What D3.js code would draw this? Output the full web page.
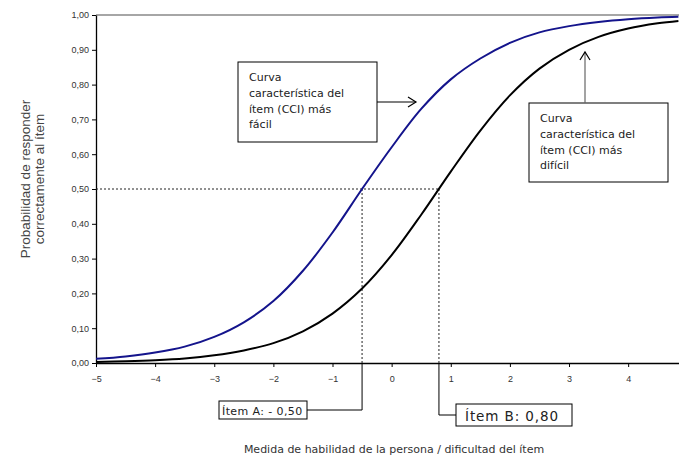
<!DOCTYPE html>
<html>
<head>
<meta charset="utf-8">
<script src="https://cdn.jsdelivr.net/npm/d3@7"></script>
<style>
  body { margin: 0; background: #fff; }
  svg { display: block; }
</style>
</head>
<body>
<div id="chart"></div>
<script>
// ability values (x)
var theta = [-5, -4.5, -4, -3.5, -3, -2.5, -2, -1.5, -1, -0.5, 0, 0.5, 1, 1.5, 2, 2.5, 3, 3.5, 4, 4.5, 4.85];
// easier item (blue) and harder item (black) probabilities
var easyItem = [0.012, 0.019, 0.03, 0.047, 0.075, 0.117, 0.178, 0.265, 0.375, 0.50, 0.62, 0.73, 0.815, 0.875, 0.92, 0.95, 0.968, 0.98, 0.988, 0.993, 0.995];
var hardItem = [0.003, 0.005, 0.008, 0.013, 0.022, 0.036, 0.057, 0.091, 0.142, 0.214, 0.31, 0.426, 0.55, 0.668, 0.769, 0.846, 0.90, 0.937, 0.961, 0.976, 0.983];
var xTicks = [-5, -4, -3, -2, -1, 0, 1, 2, 3, 4];
var yTicks = [0, 0.1, 0.2, 0.3, 0.4, 0.5, 0.6, 0.7, 0.8, 0.9, 1.0];
var itemA = -0.5, itemB = 0.8;

var W = 679, H = 455;
var mLeft = 96, mTop = 15, mBottom = 363, mRight = 679;

var svg = d3.select("#chart").append("svg")
  .attr("width", W)
  .attr("height", H);

var x = d3.scaleLinear().domain([-5, 4.86]).range([mLeft, mRight]);
var y = d3.scaleLinear().domain([0, 1]).range([mBottom, mTop]);

var fmt = function(d){ return d3.format(".2f")(d).replace(".", ","); };

// top border
svg.append("line")
  .attr("x1", mLeft).attr("x2", mRight)
  .attr("y1", mTop).attr("y2", mTop)
  .style("stroke", "#888").style("stroke-width", 1.5);

// y axis
var yAxis = svg.append("g")
  .attr("transform", "translate(" + mLeft + ",0)")
  .call(d3.axisLeft(y).tickValues(yTicks).tickSize(4).tickSizeOuter(0).tickFormat(fmt));
yAxis.select(".domain").style("stroke", "#000").style("stroke-width", 1.3);
yAxis.selectAll("text").style("font-family", "Liberation Sans, Arial").style("font-size", "9px").style("fill", "#333");

// x axis
var xAxis = svg.append("g")
  .attr("transform", "translate(0," + mBottom + ")")
  .call(d3.axisBottom(x).tickValues(xTicks).tickSize(4).tickSizeOuter(0).tickFormat(d3.format("d")));
xAxis.select(".domain").style("stroke", "#000").style("stroke-width", 1.3);
xAxis.selectAll("text").attr("dy", "1.3em").style("font-family", "Liberation Sans, Arial").style("font-size", "9px").style("fill", "#333");

// dotted guides at 0.5
var dash = "2,2";
svg.append("line")
  .attr("x1", mLeft).attr("x2", x(itemB))
  .attr("y1", y(0.5)).attr("y2", y(0.5))
  .style("stroke", "#222").style("stroke-dasharray", dash);
[itemA, itemB].forEach(function(v){
  svg.append("line")
    .attr("x1", x(v)).attr("x2", x(v))
    .attr("y1", y(0.5)).attr("y2", mBottom)
    .style("stroke", "#222").style("stroke-dasharray", dash);
});

// curves
var line = d3.line().curve(d3.curveCatmullRom.alpha(0.5));
svg.append("path")
  .datum(theta.map(function(t, i){ return [x(t), y(easyItem[i])]; }))
  .attr("d", line)
  .style("fill", "none").style("stroke", "#14148c").style("stroke-width", 2);
svg.append("path")
  .datum(theta.map(function(t, i){ return [x(t), y(hardItem[i])]; }))
  .attr("d", line)
  .style("fill", "none").style("stroke", "#000").style("stroke-width", 2);

// annotation boxes
function noteBox(bx, by, bw, bh, lines) {
  svg.append("rect")
    .attr("x", bx).attr("y", by).attr("width", bw).attr("height", bh)
    .style("fill", "#fff").style("stroke", "#000").style("stroke-width", 1);
  var t = svg.append("text")
    .style("font-family", "DejaVu Sans, Verdana")
    .style("font-size", "11px")
    .style("fill", "#222");
  lines.forEach(function(s, i){
    t.append("tspan").attr("x", bx + 11).attr("y", by + 19 + i * 15.8).text(s);
  });
}

function arrowHead(px, py, dir) {
  // open arrowhead, dir = "right" or "up"
  var p = dir == "right"
    ? [[px - 8, py - 5], [px, py], [px - 8, py + 5]]
    : [[px - 5, py + 8], [px, py], [px + 5, py + 8]];
  svg.append("path")
    .attr("d", d3.line()(p))
    .style("fill", "none").style("stroke", "#000").style("stroke-width", 1.2);
}

noteBox(238, 62, 139, 80, ["Curva", "característica del", "ítem (CCI) más", "fácil"]);
svg.append("line").attr("x1", 377).attr("x2", 416).attr("y1", 102).attr("y2", 102)
  .style("stroke", "#000").style("stroke-width", 1.2);
arrowHead(416, 102, "right");

noteBox(529, 103, 139, 79, ["Curva", "característica del", "ítem (CCI) más", "difícil"]);
svg.append("line").attr("x1", 585).attr("x2", 585).attr("y1", 103).attr("y2", 52)
  .style("stroke", "#666").style("stroke-width", 1.2);
arrowHead(585, 52, "up");

// item labels below axis
svg.append("path")
  .attr("d", d3.line()([[x(itemA), mBottom], [x(itemA), 410], [307, 410]]))
  .style("fill", "none").style("stroke", "#000").style("stroke-width", 1);
svg.append("rect").attr("x", 219).attr("y", 401).attr("width", 88).attr("height", 18)
  .style("fill", "#fff").style("stroke", "#000");
svg.append("text").attr("x", 222).attr("y", 414.5)
  .style("font-family", "DejaVu Sans, Verdana").style("font-size", "11px").style("fill", "#222")
  .style("letter-spacing", "0.4px")
  .text("Ítem A: - 0,50");

svg.append("path")
  .attr("d", d3.line()([[x(itemB), mBottom], [x(itemB), 415], [456, 415]]))
  .style("fill", "none").style("stroke", "#000").style("stroke-width", 1);
svg.append("rect").attr("x", 456).attr("y", 404).attr("width", 116).attr("height", 22)
  .style("fill", "#fff").style("stroke", "#000");
svg.append("text").attr("x", 465).attr("y", 420.5)
  .style("font-family", "DejaVu Sans, Verdana").style("font-size", "13.5px").style("fill", "#222")
  .style("letter-spacing", "0.9px")
  .text("Ítem B: 0,80");

// axis titles
svg.append("text")
  .attr("x", 394).attr("y", 453)
  .attr("text-anchor", "middle")
  .style("font-family", "DejaVu Sans, Verdana").style("font-size", "11px").style("fill", "#333")
  .text("Medida de habilidad de la persona / dificultad del ítem");

var yl = svg.append("text")
  .attr("transform", "translate(30,179) rotate(-90)")
  .attr("text-anchor", "middle")
  .style("font-family", "Liberation Sans, Arial").style("font-size", "13.5px").style("fill", "#444");
yl.append("tspan").attr("x", 0).attr("y", 0).text("Probabilidad de responder");
yl.append("tspan").attr("x", 0).attr("y", 14).text("correctamente al ítem");
</script>
</body>
</html>
